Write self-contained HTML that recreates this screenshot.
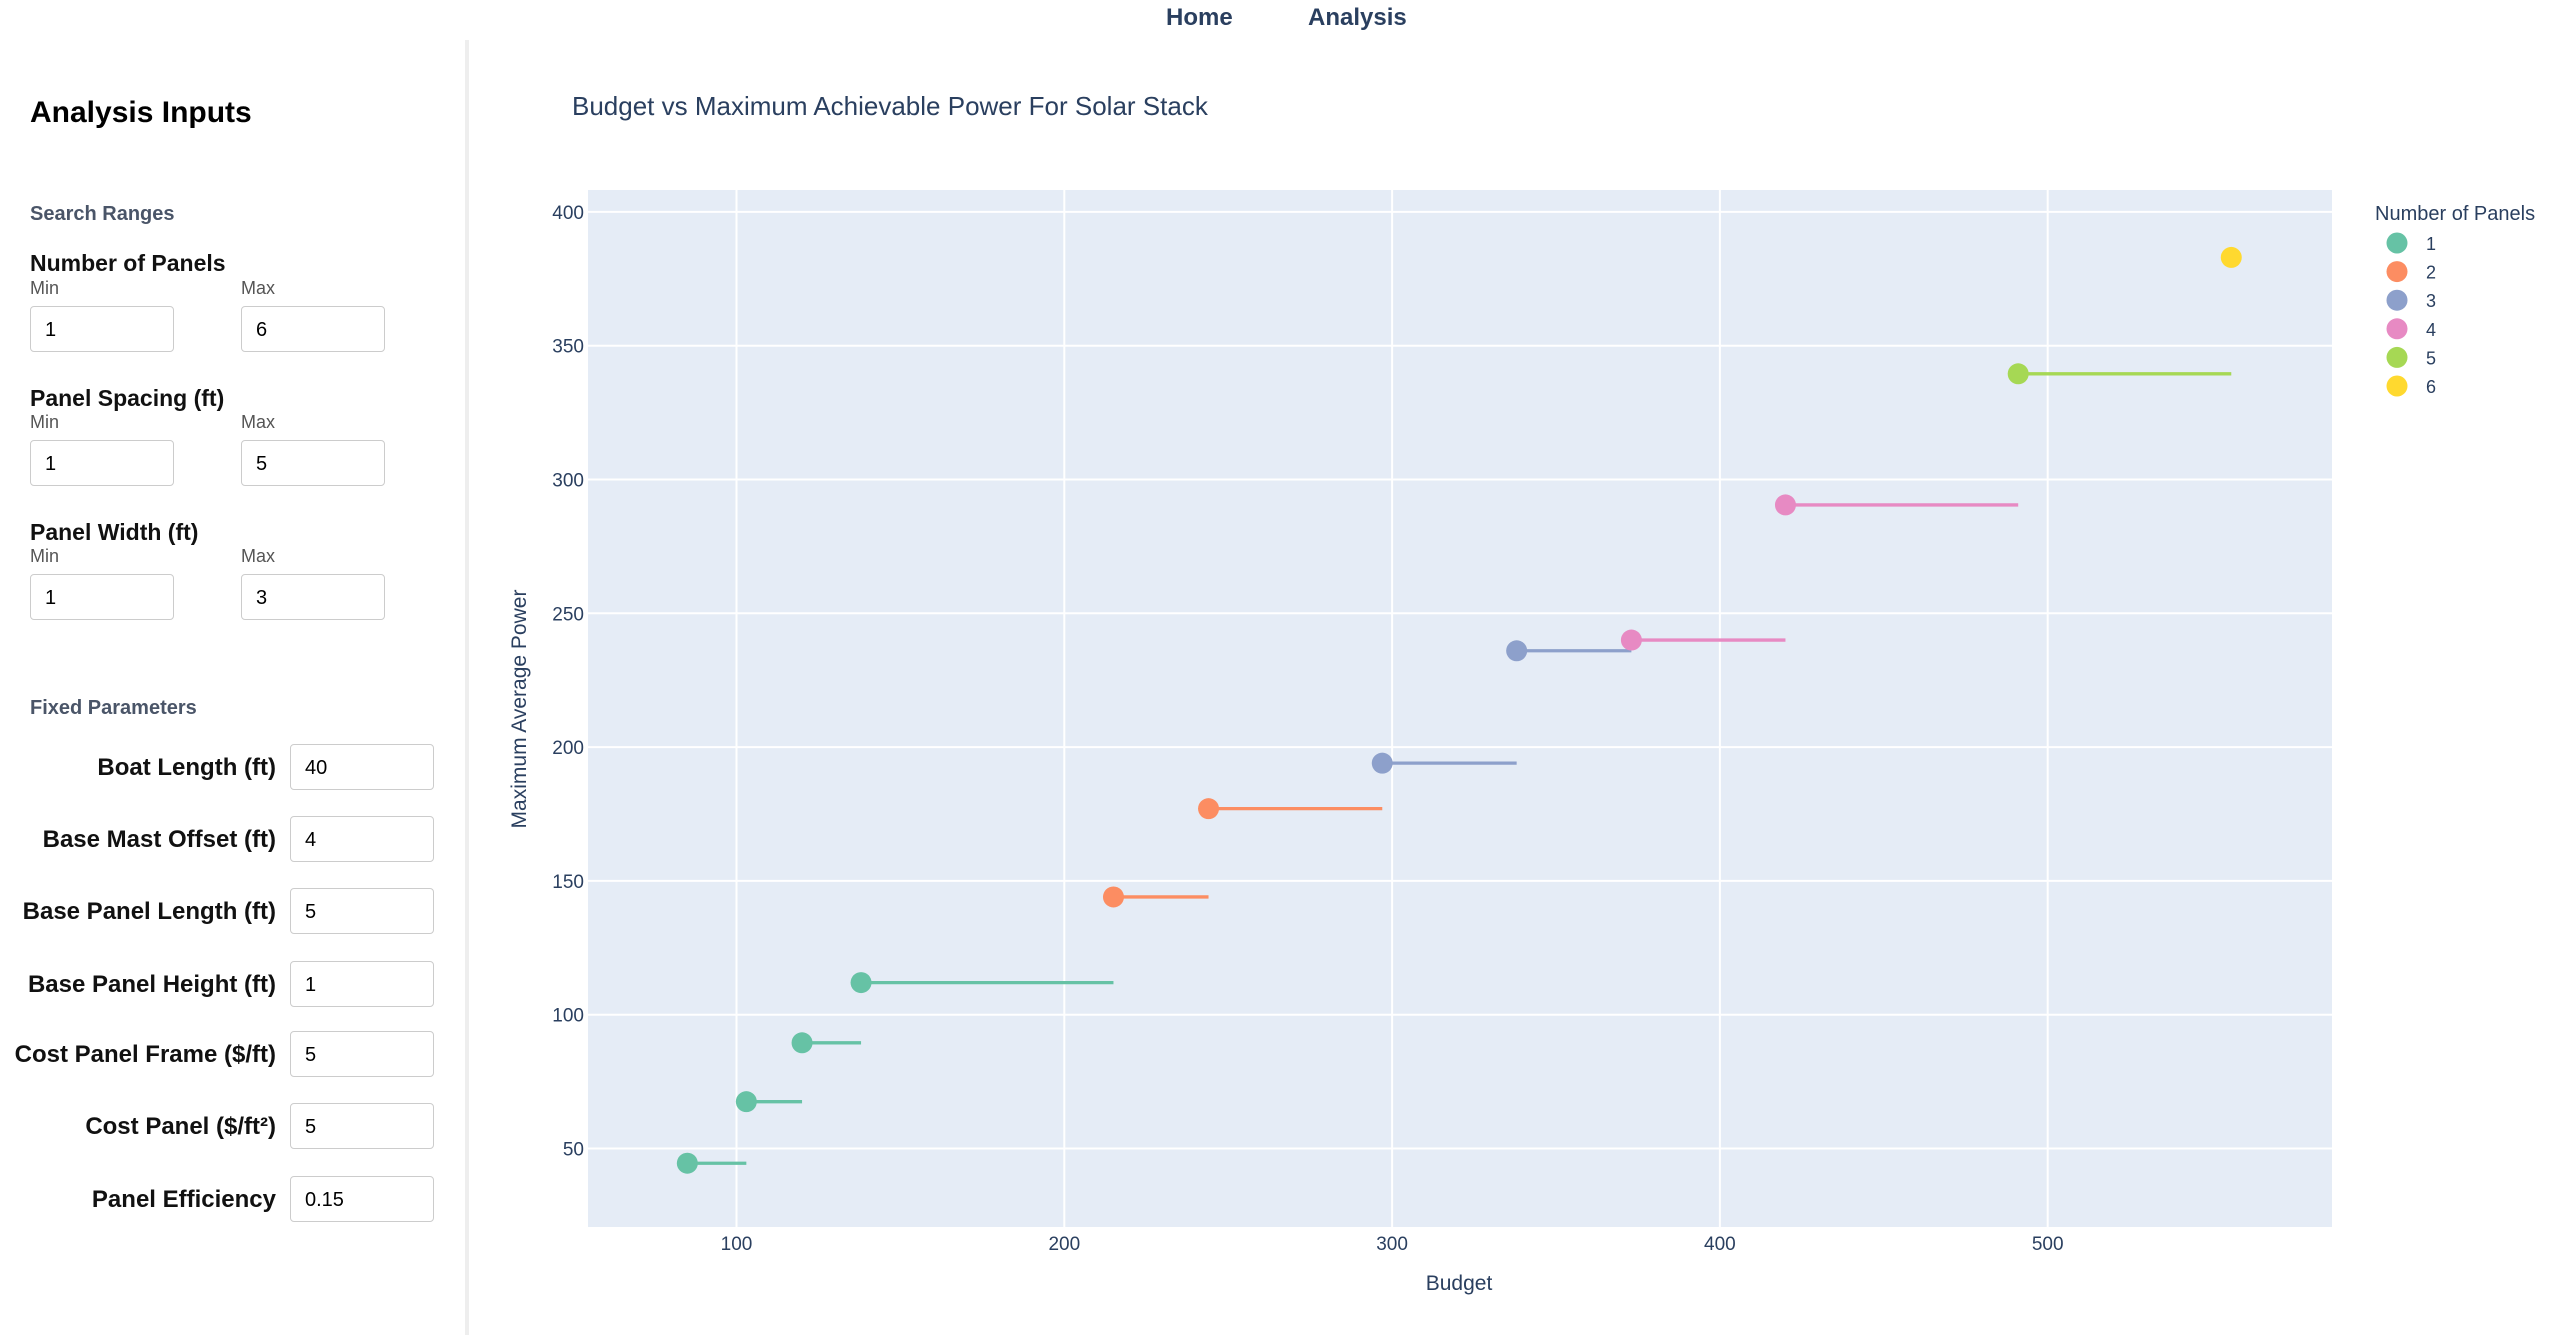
<!DOCTYPE html>
<html><head><meta charset="utf-8"><style>
body{margin:0;width:2560px;height:1335px;background:#fff;font-family:"Liberation Sans",sans-serif;position:relative;overflow:hidden}
.abs{position:absolute}
.nav{top:4px;font-size:24px;font-weight:bold;color:#2a3f5f}
.sidebar{left:0;top:40px;width:465px;height:1295px;border-right:4px solid #eee}
.lbl{font-size:23px;font-weight:bold;color:#111}
.mm{font-size:18px;color:#555}
.inp{width:144px;height:46px;border:1.5px solid #ccc;border-radius:4px;font-size:20px;padding-left:14px;box-sizing:border-box;line-height:46px;background:#fff}
.flbl{font-size:24px;font-weight:bold;color:#111;text-align:right;width:276px;left:0}
.sec{font-size:20px;font-weight:bold;color:#4a5568}
</style></head><body>
<div class="abs nav" style="left:1166px">Home</div>
<div class="abs nav" style="left:1308px">Analysis</div>
<div class="abs sidebar"></div>
<div class="abs" style="left:30px;top:96px;font-size:30px;font-weight:bold">Analysis Inputs</div>
<div class="abs sec" style="left:30px;top:203px">Search Ranges</div>

<div class="abs lbl" style="left:30px;top:250px">Number of Panels</div>
<div class="abs mm" style="left:30px;top:278px">Min</div>
<div class="abs mm" style="left:241px;top:278px">Max</div>
<div class="abs inp" style="left:30px;top:306px">1</div>
<div class="abs inp" style="left:241px;top:306px">6</div>

<div class="abs lbl" style="left:30px;top:385px">Panel Spacing (ft)</div>
<div class="abs mm" style="left:30px;top:412px">Min</div>
<div class="abs mm" style="left:241px;top:412px">Max</div>
<div class="abs inp" style="left:30px;top:440px">1</div>
<div class="abs inp" style="left:241px;top:440px">5</div>

<div class="abs lbl" style="left:30px;top:519px">Panel Width (ft)</div>
<div class="abs mm" style="left:30px;top:546px">Min</div>
<div class="abs mm" style="left:241px;top:546px">Max</div>
<div class="abs inp" style="left:30px;top:574px">1</div>
<div class="abs inp" style="left:241px;top:574px">3</div>

<div class="abs sec" style="left:30px;top:697px">Fixed Parameters</div>
<div class="abs flbl" style="top:754px">Boat Length (ft)</div>
<div class="abs inp" style="left:290px;top:744px">40</div>
<div class="abs flbl" style="top:826px">Base Mast Offset (ft)</div>
<div class="abs inp" style="left:290px;top:816px">4</div>
<div class="abs flbl" style="top:898px">Base Panel Length (ft)</div>
<div class="abs inp" style="left:290px;top:888px">5</div>
<div class="abs flbl" style="top:971px">Base Panel Height (ft)</div>
<div class="abs inp" style="left:290px;top:961px">1</div>
<div class="abs flbl" style="top:1041px">Cost Panel Frame ($/ft)</div>
<div class="abs inp" style="left:290px;top:1031px">5</div>
<div class="abs flbl" style="top:1113px">Cost Panel ($/ft²)</div>
<div class="abs inp" style="left:290px;top:1103px">5</div>
<div class="abs flbl" style="top:1186px">Panel Efficiency</div>
<div class="abs inp" style="left:290px;top:1176px">0.15</div>

<svg class="abs" id="chart" style="left:0;top:0" width="2560" height="1335" font-family="'Liberation Sans',sans-serif"></svg>
<script>
const budgets=[85,103,120,138,215,244,297,338,373,420,491,556];
const powers=[44.5,67.5,89.5,112,144,177,194,236,240,290.5,339.5,383];
const panelGroups=[1,1,1,1,2,2,3,3,4,4,5,6];
const legendLabels=[1,2,3,4,5,6];
const xTicks=[100,200,300,400,500];
const yTicks=[50,100,150,200,250,300,350,400];
const colors={1:'#66c2a5',2:'#fc8d62',3:'#8da0cb',4:'#e78ac3',5:'#a6d854',6:'#ffd92f'};
const L=588,R=2332,T=190,B=1227;
const X=v=>736.5+(v-100)*3.278;
const Y=v=>1148.5-(v-50)*2.676;
const svg=document.getElementById('chart');
const NS='http://www.w3.org/2000/svg';
function mk(tag,attrs,parent){const e=document.createElementNS(NS,tag);for(const k in attrs)e.setAttribute(k,attrs[k]);(parent||svg).appendChild(e);return e;}
let t=mk('text',{x:572,y:115,'font-size':26,fill:'#2a3f5f'});t.textContent='Budget vs Maximum Achievable Power For Solar Stack';


let bg=mk('rect',{x:L,y:T,width:R-L,height:B-T,fill:'#e5ecf6'});


xTicks.forEach(v=>{let g=mk('line',{x1:X(v),x2:X(v),y1:T,y2:B,stroke:'#fff','stroke-width':2});


let l=mk('text',{x:X(v),y:1250,'font-size':19,fill:'#2a3f5f','text-anchor':'middle'});l.textContent=v;

});
yTicks.forEach(v=>{let g=mk('line',{x1:L,x2:R,y1:Y(v),y2:Y(v),stroke:'#fff','stroke-width':2});


let l=mk('text',{x:584,y:Y(v)+7,'font-size':19,fill:'#2a3f5f','text-anchor':'end'});l.textContent=v;

});
budgets.forEach((b,i)=>{if(i<budgets.length-1){let ln=mk('line',{x1:X(b),x2:X(budgets[i+1]),y1:Y(powers[i]),y2:Y(powers[i]),stroke:colors[panelGroups[i]],'stroke-width':3.3});

}});
budgets.forEach((b,i)=>{let c=mk('circle',{cx:X(b),cy:Y(powers[i]),r:10.5,fill:colors[panelGroups[i]]});

});
t=mk('text',{x:1459,y:1290,'font-size':21,fill:'#2a3f5f','text-anchor':'middle'});t.textContent='Budget';


t=mk('text',{x:0,y:0,'font-size':21,fill:'#2a3f5f','text-anchor':'middle',transform:'translate(526,709) rotate(-90)'});t.textContent='Maximum Average Power';


t=mk('text',{x:2375,y:220,'font-size':20,fill:'#2a3f5f'});t.textContent='Number of Panels';


legendLabels.forEach((k,i)=>{const y=243+i*28.6;
let c=mk('circle',{cx:2397,cy:y,r:10.5,fill:colors[k]});


let l=mk('text',{x:2426,y:y+7,'font-size':18,fill:'#2a3f5f'});l.textContent=k;

});
</script>
</body></html>
